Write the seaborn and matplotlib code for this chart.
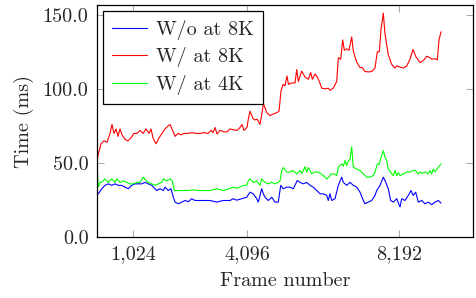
import matplotlib
matplotlib.use("Agg")
import matplotlib.pyplot as plt
import seaborn as sns
import pandas as pd

# ---- data ----
series_names = ["W/o at 8K", "W/ at 8K", "W/ at 4K"]
series_colors = ["#0000ff", "#ff0000", "#00ff00"]

frames_wo8k = [46,81,172,261,350,442,531,620,711,800,
               889,981,1070,1159,1250,1339,1428,1520,1609,1655,
               1744,1833,1878,1967,2040,2102,2148,2237,2328,2417,
               2506,2598,2687,2822,2956,3091,3272,3450,3630,3719,
               3811,3945,4080,4169,4258,4350,4393,4484,4528,4574,
               4662,4754,4843,4932,4997,5067,5158,5247,5336,5444,
               5517,5606,5697,5786,5875,5967,6056,6145,6236,6279,
               6325,6371,6460,6549,6641,6684,6775,6864,6953,7045,
               7134,7223,7268,7357,7449,7538,7584,7673,7762,7807,
               7896,7961,8031,8123,8212,8258,8347,8435,8508,8570,
               8634,8705,8797,8885,8974,9066,9155,9244,9317]
time_wo8k = [30,29.3,32.7,35,36,35,36,35,35,33.8,
             32.7,35,36,36,36,37,36,35,32.7,31.5,
             32.7,31.5,33.8,31.5,32.7,27,23.7,22.6,23.7,24.8,
             24,26,24.8,24.8,24.8,24.8,23.7,24.8,24.8,26,
             25,26,27,30.4,29.3,26,23.7,32.7,29.3,27,
             24.8,27,23.7,23.7,35,32.7,33.8,33.8,32.7,38.3,
             37,36,37,35,33.8,31.5,29.3,29.3,28.2,24.8,
             29.3,24.8,26,35,40.5,37,35,37,35,33.8,
             30.4,24.8,22.6,23.7,24.8,28.2,31.5,35,40.5,38.3,
             32.7,24.8,23.7,26,20.4,26,24.8,28.2,31.5,28.2,
             30.4,23.7,24.8,22.6,23.7,22,23.7,24.8,23]

frames_w8k = [46,100,154,234,315,396,450,504,558,612,
              666,720,800,881,962,1043,1124,1205,1286,1366,
              1447,1501,1555,1636,1717,1798,1878,1959,2013,2067,
              2148,2229,2310,2390,2498,2606,2714,2822,2929,3037,
              3118,3172,3226,3280,3361,3468,3549,3630,3711,3819,
              3900,3954,4007,4088,4123,4169,4250,4304,4358,4439,
              4493,4533,4619,4708,4789,4897,4951,5005,5058,5112,
              5166,5207,5293,5382,5428,5471,5562,5651,5740,5805,
              5848,5921,5983,6037,6102,6190,6279,6325,6414,6506,
              6549,6614,6667,6711,6775,6837,6910,6953,7045,7134,
              7188,7268,7357,7449,7538,7600,7654,7700,7762,7807,
              7853,7896,7988,8077,8123,8212,8301,8392,8481,8562,
              8643,8751,8840,8931,9020,9066,9155,9217,9263,9317]
time_w8k = [52,58,63,65,64,70,76,70,73,68,
            73,69,66,65,67,70,70,72,70,73,
            70,73,67,63,67,70,73,75,76,73,
            68,70,69,70,70,70.5,70,70,70.5,70,
            72,70.5,74,69.6,72,71,71,73,72.5,72,
            74,76,72,74,79.6,85,80,79,79.6,76,
            84,90,84,82,83,84,85,98.7,103,102,
            108.7,103,104,104,113,105,112,108,106.5,111,
            106.5,110,108,105,100.5,100,100.5,99,100.5,105,
            121,120,133,126,127,126,135,125.5,118,114.3,
            114.5,111.7,111.4,111.7,114,125,125,140,151,137,
            130,123,116.5,114,115.5,114.7,114,115.4,120,126.6,
            121.5,117.7,119,122,121,120,120.3,119.5,133,138.5]

frames_w4k = [46,81,127,172,261,350,442,531,577,666,
              755,846,935,1016,1116,1205,1294,1339,1428,1520,
              1609,1698,1789,1833,1924,2013,2075,2129,2229,2364,
              2498,2633,2768,2929,3091,3272,3450,3576,3719,3819,
              3989,4080,4123,4169,4258,4350,4439,4484,4574,4662,
              4754,4843,4932,4978,5023,5067,5158,5247,5336,5428,
              5517,5571,5651,5697,5740,5832,5921,6010,6145,6236,
              6306,6352,6433,6506,6549,6641,6684,6730,6775,6818,
              6864,6910,6953,7045,7134,7223,7314,7403,7492,7538,
              7600,7646,7700,7762,7807,7853,7896,7988,8031,8077,
              8123,8166,8212,8301,8392,8481,8570,8634,8705,8751,
              8813,8885,8974,9020,9066,9109,9155,9244,9317]
time_w4k = [50,34,37,37,39.4,37,39.4,37,39.4,37,
            38,37,36,36,37,37,40.5,39,37,36,
            35,36,37,39.4,38,39.4,38,31.5,31.5,31.5,
            31.5,32,31.5,31.5,31.5,32.7,31.5,32.5,33.8,33,
            35,35,38,39.4,37,38,35,39.4,37,36,
            37,36,37,38,45,47,44,44,45,42.7,
            45,43,47.6,44,47,42.7,44,44,41.6,39.4,
            41,42.7,42.7,41.6,47.2,49.4,48,51.7,48.3,51.7,
            52.5,61,47.2,46,45,42.7,40.5,40.5,41.6,44,
            49.4,49,53.9,58.4,54,51.7,46,42.7,41.6,45,
            41.6,43.5,41.6,42.7,44,44,45,45,42.7,44,
            43,44,42.7,45,42.7,46,44,47.2,49.4]

x_ticks = [1024, 4096, 8192]
x_tick_labels = ["1,024", "4,096", "8,192"]
y_ticks = [0, 50, 100, 150]
y_tick_labels = ["0.0", "50.0", "100.0", "150.0"]

# ---- long table for seaborn ----
df = pd.concat([
    pd.DataFrame({"frame": frames_wo8k, "time": time_wo8k, "series": series_names[0]}),
    pd.DataFrame({"frame": frames_w8k, "time": time_w8k, "series": series_names[1]}),
    pd.DataFrame({"frame": frames_w4k, "time": time_w4k, "series": series_names[2]}),
], ignore_index=True)

sns.set_style("ticks")
plt.rcParams["font.family"] = ["cmr10", "DejaVu Serif"]
plt.rcParams["axes.unicode_minus"] = False
plt.rcParams["mathtext.fontset"] = "cm"
FS = 14.5

fig = plt.figure(figsize=(4.76, 2.98), dpi=100)
ax = fig.add_axes([0.2032, 0.2037, 0.7898, 0.7795])

sns.lineplot(data=df, x="frame", y="time", hue="series", hue_order=series_names,
             palette=dict(zip(series_names, series_colors)), estimator=None,
             linewidth=0.8, ax=ax, legend=False)

ax.set_xlim(38, 10170)
ax.set_ylim(0, 156.5)
ax.set_xticks(x_ticks)
ax.set_xticklabels(x_tick_labels)
ax.set_yticks(y_ticks)
ax.set_yticklabels(y_tick_labels)
ax.tick_params(axis="both", which="major", direction="in", length=5, width=0.6,
               color="0.6", labelsize=FS, top=True, right=True, pad=6)
for s in ax.spines.values():
    s.set_linewidth(0.9)
    s.set_color("black")

ax.set_xlabel("Frame number", fontsize=FS, labelpad=6)
ax.set_ylabel("Time (ms)", fontsize=FS, labelpad=6)

handles = [plt.Line2D([], [], color=c, linewidth=0.8) for c in series_colors]
leg = ax.legend(handles, series_names, loc="upper left", fontsize=FS,
                frameon=True, fancybox=False, framealpha=1, edgecolor="black",
                handlelength=1.75, handletextpad=0.45, labelspacing=0.36,
                borderpad=0.45, borderaxespad=0.3)
leg.get_frame().set_linewidth(0.9)

fig.savefig("out.png", dpi=100)
